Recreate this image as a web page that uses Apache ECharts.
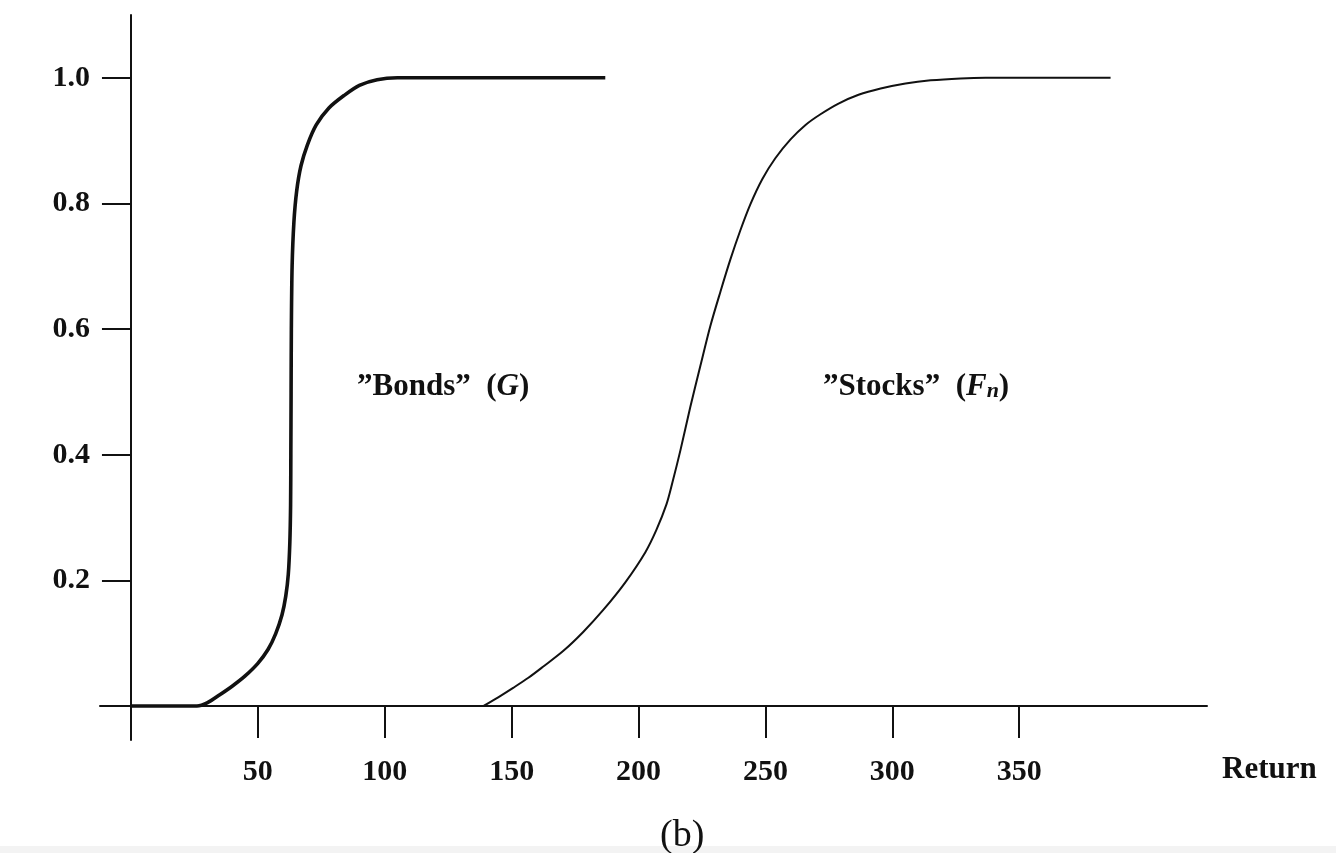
<!DOCTYPE html>
<html>
<head>
<meta charset="utf-8">
<title>Bonds vs Stocks</title>
<script src="https://cdn.jsdelivr.net/npm/echarts@6/dist/echarts.min.js"></script>
<style>
  html, body { margin: 0; padding: 0; background: #fff; }
  #chart { width: 1336px; height: 853px; }
</style>
</head>
<body>
<div id="chart"></div>
<script>
// Cumulative distribution of returns: "Bonds" (G) and "Stocks" (F_n)
const bondsReturn = [0, 26, 30, 35, 40, 45, 50, 54, 57, 59.5, 61, 62, 62.6, 62.9, 63.0, 63.1, 63.2, 63.5, 64.2, 65.3, 67, 69.5, 73, 78, 84, 90, 97, 105, 186.9];
const bondsProb   = [0, 0, 0.005, 0.018, 0.032, 0.048, 0.068, 0.09, 0.115, 0.145, 0.175, 0.21, 0.26, 0.32, 0.40, 0.50, 0.60, 0.70, 0.77, 0.82, 0.86, 0.893, 0.925, 0.952, 0.972, 0.988, 0.997, 1.0, 1.0];

const stocksReturn = [138.8, 144.7, 150.6, 156.6, 162.5, 170.4, 178.2, 186.1, 194.8, 202.7, 207.0, 211.0, 213.3, 216.5, 220.4, 224.4, 228.3, 232.3, 236.2, 240.1, 244.1, 248.8, 253.9, 259.9, 265.8, 271.7, 278.8, 286.7, 295.4, 305.2, 315.1, 326.9, 336.8, 386.0];
const stocksProb   = [0, 0.014, 0.029, 0.045, 0.063, 0.088, 0.118, 0.153, 0.197, 0.245, 0.280, 0.321, 0.355, 0.407, 0.476, 0.542, 0.605, 0.660, 0.711, 0.757, 0.799, 0.839, 0.872, 0.902, 0.925, 0.942, 0.959, 0.973, 0.983, 0.991, 0.996, 0.999, 1.0, 1.0];

const xTicks = [0, 50, 100, 150, 200, 250, 300, 350];
const xTickLabels = [50, 100, 150, 200, 250, 300, 350];
const yTicks = [0.2, 0.4, 0.6, 0.8, 1.0];

const pair = (xs, ys) => xs.map((x, i) => [x, ys[i]]);

const ink = '#111';
const font = '"Liberation Serif", "DejaVu Serif", serif';

const chart = echarts.init(document.getElementById('chart'), null, { renderer: 'canvas' });

chart.setOption({
  backgroundColor: '#fff',
  animation: false,
  grid: { left: 100, right: 129, top: 15, bottom: 113, containLabel: false },
  xAxis: {
    type: 'value',
    min: -12.2,
    max: 424,
    axisLine: { onZero: true, lineStyle: { color: ink, width: 2 } },
    axisTick: { show: true, length: 32, inside: false, customValues: xTicks, lineStyle: { color: ink, width: 2 } },
    axisLabel: {
      customValues: xTickLabels,
      margin: 17,
      verticalAlign: 'top',
      color: ink,
      fontFamily: font,
      fontWeight: 'bold',
      fontSize: 30
    },
    splitLine: { show: false }
  },
  yAxis: {
    type: 'value',
    min: -0.054,
    max: 1.1,
    axisLine: { show: true, onZero: true, lineStyle: { color: ink, width: 2 } },
    axisTick: { show: true, length: 29, inside: false, customValues: yTicks, lineStyle: { color: ink, width: 2 } },
    axisLabel: {
      customValues: yTicks,
      margin: 10,
      color: ink,
      fontFamily: font,
      fontWeight: 'bold',
      fontSize: 30,
      formatter: v => v.toFixed(1)
    },
    splitLine: { show: false }
  },
  series: [
    {
      name: 'Bonds',
      type: 'line',
      data: pair(bondsReturn, bondsProb),
      showSymbol: false,
      smooth: 0.3,
      lineStyle: { color: ink, width: 3.6 },
      z: 3
    },
    {
      name: 'Stocks',
      type: 'line',
      data: pair(stocksReturn, stocksProb),
      showSymbol: false,
      smooth: 0.3,
      lineStyle: { color: ink, width: 2 },
      z: 3
    }
  ],
  graphic: [
    {
      type: 'text', left: 357, top: 371,
      style: {
        text: '\u201DBonds\u201D  ({it|G})',
        fill: ink, font: 'bold 31px ' + font,
        rich: { it: { fontStyle: 'italic', fontWeight: 'bold', fontFamily: font, fontSize: 31, fill: ink } }
      }
    },
    {
      type: 'text', left: 823, top: 371,
      style: {
        text: '\u201DStocks\u201D  ({it|F}{sub|n})',
        fill: ink, font: 'bold 31px ' + font,
        rich: {
          it: { fontStyle: 'italic', fontWeight: 'bold', fontFamily: font, fontSize: 31, fill: ink },
          sub: { fontStyle: 'italic', fontWeight: 'bold', fontFamily: font, fontSize: 22, fill: ink, padding: [10, 0, 0, 0] }
        }
      }
    },
    {
      type: 'text', left: 1222, top: 754,
      style: { text: 'Return', fill: ink, font: 'bold 31px ' + font }
    },
    {
      type: 'text', left: 660, top: 817,
      style: { text: '(b)', fill: ink, font: '38px ' + font }
    },
    {
      type: 'rect', left: 0, top: 846,
      shape: { width: 1336, height: 7 },
      style: { fill: '#f3f3f3' },
      z: -1
    }
  ]
});
</script>
</body>
</html>
